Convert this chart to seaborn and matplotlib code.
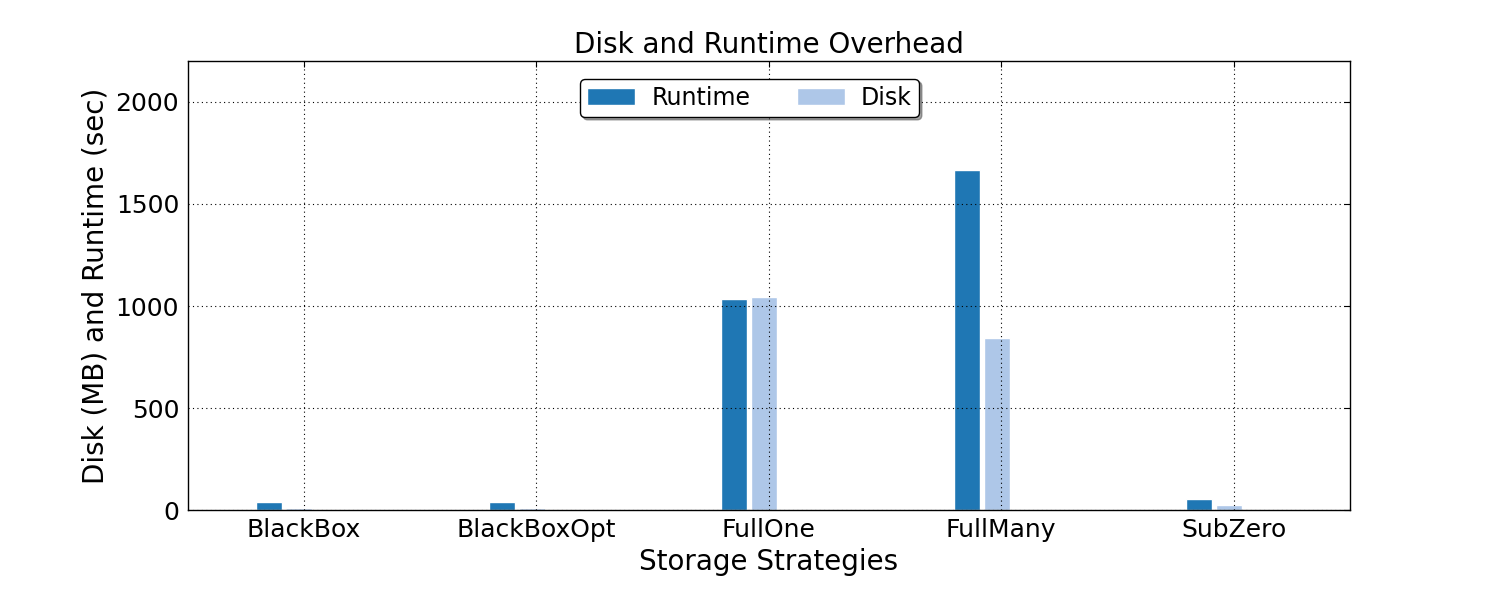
import pandas as pd
import matplotlib
matplotlib.use('Agg')
import matplotlib.pyplot as plt
import seaborn as sns

# --- Data ---
strategies = ['BlackBox', 'BlackBoxOpt', 'FullOne', 'FullMany', 'SubZero']
runtime_sec = [39, 39, 1032, 1667, 54]
disk_mb = [12, 12, 1046, 841, 24]
series_names = ['Runtime', 'Disk']
series_colors = ['#1f77b4', '#aec7e8']

# long-form table for seaborn
df = pd.DataFrame({
    'strategy': strategies * 2,
    'value': runtime_sec + disk_mb,
    'series': [series_names[0]] * len(strategies) + [series_names[1]] * len(strategies),
})

# --- Style: mimic the old matplotlib look ---
sns.set_style('white', {
    'axes.edgecolor': 'black',
    'axes.labelcolor': 'black',
    'text.color': 'black',
    'xtick.color': 'black',
    'ytick.color': 'black',
    'axes.grid': True,
    'grid.color': 'black',
    'grid.linestyle': ':',
    'xtick.direction': 'in',
    'ytick.direction': 'in',
})
plt.rcParams['font.family'] = ['DejaVu Sans']
plt.rcParams['axes.linewidth'] = 1.0

fig = plt.figure(figsize=(15, 6), dpi=100)
ax = fig.add_axes([0.125, 0.15, 0.775, 0.748])

sns.barplot(data=df, x='strategy', y='value', hue='series', order=strategies,
            hue_order=series_names, palette=series_colors, width=0.258, gap=0.133,
            saturation=1, ax=ax, legend=True)

# bars in the original sit left of the tick, shift the whole pair
for p in ax.patches:
    p.set_x(p.get_x() - 0.083)

ax.set_xlim(-0.5, len(strategies) - 0.5)
ax.set_ylim(0, 2200)
ax.set_yticks([0, 500, 1000, 1500, 2000])
ax.tick_params(axis='both', labelsize=18, length=4, top=True, right=True, pad=6)
ax.grid(True, color='black', linestyle=(0, (1, 3)), linewidth=0.8)
ax.set_axisbelow(False)
for s in ax.spines.values():
    s.set_visible(True)
    s.set_color('black')

ax.set_title('Disk and Runtime Overhead', fontsize=20)
ax.set_xlabel('Storage Strategies', fontsize=20)
ax.set_ylabel('Disk (MB) and Runtime (sec)', fontsize=20)

leg = ax.legend(loc='upper center', bbox_to_anchor=(0.4836, 1.0), ncol=2, fontsize=17,
                fancybox=True, shadow=True, frameon=True, handlelength=2.0,
                handletextpad=0.7, columnspacing=2.0, borderaxespad=0.75, borderpad=0.3)
leg.get_frame().set_edgecolor('black')
leg.get_frame().set_linewidth(1.0)
leg.get_frame().set_alpha(1)

fig.savefig('out.png', dpi=100)
